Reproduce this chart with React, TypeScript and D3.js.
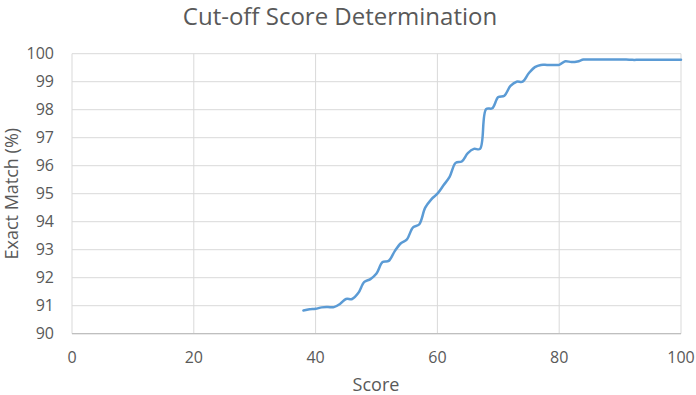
import React from "react";
import * as d3 from "d3";

const scores = [38,39,40,41,42,43,44,45,46,47,48,49,50,51,52,53,54,55,56,57,58,59,60,61,62,63,64,65,66,67,68,69,70,71,72,73,74,75,76,77,78,79,80,81,82,83,84,85,86,87,88,89,90,91,92,93,94,95,96,97,98,99,100];
const exactMatch = [90.83,90.87,90.89,90.94,90.95,90.95,91.06,91.24,91.24,91.45,91.85,91.95,92.15,92.56,92.6,92.95,93.23,93.37,93.8,93.9,94.5,94.8,95.0,95.3,95.6,96.1,96.15,96.45,96.6,96.6,98.02,98.05,98.45,98.5,98.85,99.0,99.0,99.3,99.52,99.6,99.6,99.6,99.6,99.73,99.7,99.72,99.79,99.79,99.79,99.79,99.79,99.79,99.79,99.79,99.78,99.78,99.78,99.78,99.78,99.78,99.78,99.78,99.78];
const xTicks = [0,20,40,60,80,100];
const yTicks = [90,91,92,93,94,95,96,97,98,99,100];

const W = 696, H = 395;
const FONT = "'Open Sans', 'Liberation Sans', sans-serif";

export default function App() {
  const x = d3.scaleLinear().domain([0, 100]).range([72, 681]);
  const y = d3.scaleLinear().domain([90, 100]).range([333.7, 53.7]);
  const pts: [number, number][] = scores.map((s, i) => [s, exactMatch[i]]);
  const line = d3.line<[number, number]>()
    .x(d => x(d[0]))
    .y(d => y(d[1]))
    .curve(d3.curveCatmullRom.alpha(0.5));
  return (
    <svg width={W} height={H} style={{ position: "absolute", left: 0, top: 0, background: "#fff" }}>
      <rect x={0} y={0} width={W} height={H} fill="#fff" />
      <text x={340} y={25} textAnchor="middle" fontFamily={FONT} fontSize={24} fill="#595959">Cut-off Score Determination</text>
      {yTicks.map(t => (
        <line key={"gy" + t} x1={x(0)} x2={x(100)} y1={y(t)} y2={y(t)} stroke="#d9d9d9" strokeWidth={1} />
      ))}
      {xTicks.map(t => (
        <line key={"gx" + t} x1={x(t)} x2={x(t)} y1={y(90)} y2={y(100)} stroke="#d9d9d9" strokeWidth={1} />
      ))}
      <line x1={x(0)} x2={x(100)} y1={y(90)} y2={y(90)} stroke="#bfbfbf" strokeWidth={1.3} />
      {yTicks.map(t => (
        <text key={"ty" + t} x={54} y={y(t)} dy="0.35em" textAnchor="end" fontFamily={FONT} fontSize={16} fill="#595959">{t}</text>
      ))}
      {xTicks.map(t => (
        <text key={"tx" + t} x={x(t)} y={363} textAnchor="middle" fontFamily={FONT} fontSize={16} fill="#595959">{t}</text>
      ))}
      <text x={376} y={391} textAnchor="middle" fontFamily={FONT} fontSize={18} fill="#595959">Score</text>
      <text transform={`translate(18,${y(95)}) rotate(-90)`} textAnchor="middle" fontFamily={FONT} fontSize={18} fill="#595959">Exact Match (%)</text>
      <path d={line(pts) || ""} fill="none" stroke="#5b9bd5" strokeWidth={2.5} strokeLinecap="round" strokeLinejoin="round" />
    </svg>
  );
}
